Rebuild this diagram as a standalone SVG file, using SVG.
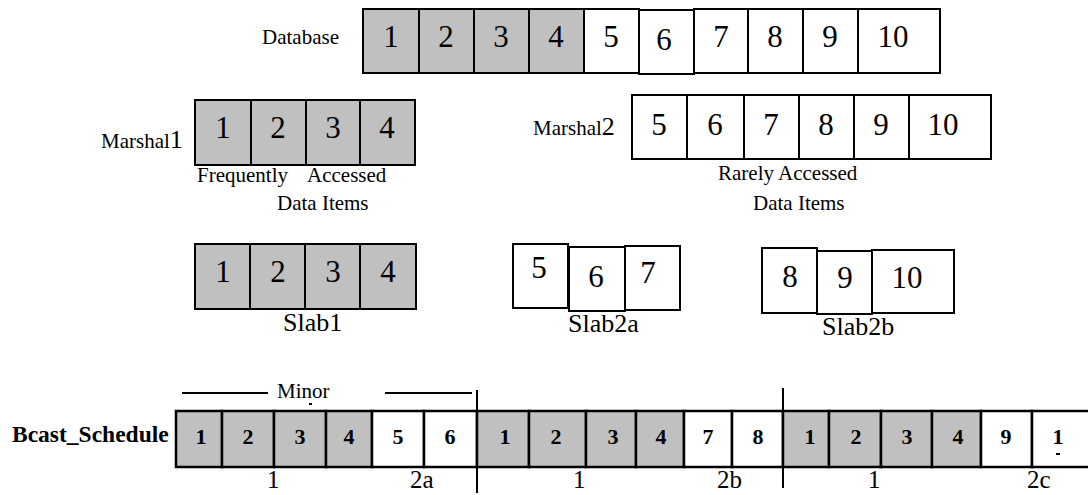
<svg xmlns="http://www.w3.org/2000/svg" width="1088" height="495" viewBox="0 0 1088 495">
<style>
  .g{fill:#c0c0c0;stroke:#000;stroke-width:2}
  .w{fill:#fff;stroke:#000;stroke-width:2}
  .gb{fill:#c0c0c0;stroke:#000;stroke-width:2.5}
  .wb{fill:#fff;stroke:#000;stroke-width:2.5}
  text{font-family:"Liberation Serif","Times New Roman",serif;fill:#000}
  .d{font-size:31px;text-anchor:middle}
  .db{font-size:22px;font-weight:bold;text-anchor:middle}
  .lbl{font-size:21px}
  .sl{font-size:26px}
  .bl{font-size:25px}
  .ln{stroke:#000;stroke-width:2;fill:none}
</style>
<rect width="1088" height="495" fill="#fff"/>

<g id="database">
  <text class="lbl" x="262" y="44" font-size="22.5">Database</text>
  <rect class="g" x="363" y="9" width="56" height="64"/>
  <rect class="g" x="419" y="9" width="55" height="64"/>
  <rect class="g" x="474" y="9" width="55" height="64"/>
  <rect class="g" x="529" y="9" width="55" height="64"/>
  <rect class="w" x="584" y="9" width="55" height="64"/>
  <rect class="w" x="639" y="10" width="55" height="64"/>
  <rect class="w" x="694" y="9" width="54" height="64"/>
  <rect class="w" x="748" y="9" width="55" height="64"/>
  <rect class="w" x="803" y="9" width="55" height="64"/>
  <rect class="w" x="858" y="9" width="82" height="64"/>
  <text class="d" x="391" y="47">1</text>
  <text class="d" x="446" y="47">2</text>
  <text class="d" x="501" y="47">3</text>
  <text class="d" x="556" y="47">4</text>
  <text class="d" x="611" y="47">5</text>
  <text class="d" x="664" y="50">6</text>
  <text class="d" x="721" y="47">7</text>
  <text class="d" x="775" y="47">8</text>
  <text class="d" x="830" y="47">9</text>
  <text class="d" x="893" y="47">10</text>
</g>

<g id="marshal1">
  <text class="lbl" x="101" y="148">Marshal<tspan font-size="26">1</tspan></text>
  <rect class="g" x="195" y="100" width="56" height="65"/>
  <rect class="g" x="251" y="100" width="55" height="65"/>
  <rect class="g" x="306" y="100" width="54" height="65"/>
  <rect class="g" x="360" y="100" width="55" height="65"/>
  <text class="d" x="223" y="138">1</text>
  <text class="d" x="278" y="138">2</text>
  <text class="d" x="333" y="138">3</text>
  <text class="d" x="387" y="138">4</text>
  <text class="lbl" y="182"><tspan x="197">Frequently</tspan><tspan x="307">Accessed</tspan></text>
  <text class="lbl" x="277" y="210">Data Items</text>
</g>

<g id="marshal2">
  <text class="lbl" x="533" y="135">Marshal<tspan font-size="26">2</tspan></text>
  <rect class="w" x="632" y="95" width="55" height="64"/>
  <rect class="w" x="687" y="95" width="57" height="64"/>
  <rect class="w" x="744" y="95" width="55" height="64"/>
  <rect class="w" x="799" y="95" width="55" height="64"/>
  <rect class="w" x="854" y="95" width="55" height="64"/>
  <rect class="w" x="909" y="95" width="82" height="64"/>
  <text class="d" x="659" y="135">5</text>
  <text class="d" x="715" y="135">6</text>
  <text class="d" x="771" y="135">7</text>
  <text class="d" x="826" y="135">8</text>
  <text class="d" x="881" y="135">9</text>
  <text class="d" x="943" y="135">10</text>
  <text class="lbl" x="718" y="180">Rarely Accessed</text>
  <text class="lbl" x="753" y="210">Data Items</text>
</g>

<g id="slab1">
  <rect class="g" x="195" y="244" width="55" height="65"/>
  <rect class="g" x="250" y="244" width="55" height="65"/>
  <rect class="g" x="305" y="244" width="55" height="65"/>
  <rect class="g" x="360" y="244" width="56" height="65"/>
  <text class="d" x="223" y="282">1</text>
  <text class="d" x="278" y="282">2</text>
  <text class="d" x="333" y="282">3</text>
  <text class="d" x="388" y="282">4</text>
  <text class="sl" x="283" y="331">Slab1</text>
</g>

<g id="slab2a">
  <rect class="w" x="513" y="244" width="55" height="64"/>
  <rect class="w" x="569" y="247" width="56" height="64"/>
  <rect class="w" x="625" y="246" width="55" height="64"/>
  <text class="d" x="539" y="278">5</text>
  <text class="d" x="596" y="287">6</text>
  <text class="d" x="648" y="283">7</text>
  <text class="sl" x="568" y="332">Slab2a</text>
</g>

<g id="slab2b">
  <rect class="w" x="762" y="248" width="55" height="65"/>
  <rect class="w" x="817" y="251" width="55" height="63"/>
  <rect class="w" x="872" y="250" width="82" height="63"/>
  <text class="d" x="790" y="287">8</text>
  <text class="d" x="845" y="288">9</text>
  <text class="d" x="907" y="288">10</text>
  <text class="sl" x="822" y="335">Slab2b</text>
</g>

<g id="bcast">
  <text x="12" y="442" font-size="23.5" font-weight="bold">Bcast_Schedule</text>
  <rect class="gb" x="176" y="411" width="46" height="56"/>
  <rect class="gb" x="222" y="411" width="52" height="56"/>
  <rect class="gb" x="274" y="411" width="52" height="56"/>
  <rect class="gb" x="326" y="411" width="46" height="56"/>
  <rect class="wb" x="372" y="411" width="52" height="56"/>
  <rect class="wb" x="424" y="411" width="53" height="56"/>
  <rect class="gb" x="477" y="411" width="52" height="56"/>
  <rect class="gb" x="529" y="411" width="57" height="56"/>
  <rect class="gb" x="586" y="411" width="50" height="56"/>
  <rect class="gb" x="636" y="411" width="48" height="56"/>
  <rect class="wb" x="684" y="411" width="48" height="56"/>
  <rect class="wb" x="732" y="411" width="51" height="56"/>
  <rect class="gb" x="783" y="411" width="46" height="56"/>
  <rect class="gb" x="829" y="411" width="52" height="56"/>
  <rect class="gb" x="881" y="411" width="51" height="56"/>
  <rect class="gb" x="932" y="411" width="49" height="56"/>
  <rect class="wb" x="981" y="411" width="51" height="56"/>
  <rect class="wb" x="1032" y="411" width="60" height="56"/>
  <text class="db" x="201" y="444">1</text>
  <text class="db" x="248" y="444">2</text>
  <text class="db" x="300" y="444">3</text>
  <text class="db" x="349" y="444">4</text>
  <text class="db" x="398" y="444">5</text>
  <text class="db" x="450" y="444">6</text>
  <text class="db" x="505" y="444">1</text>
  <text class="db" x="556" y="444">2</text>
  <text class="db" x="613" y="444">3</text>
  <text class="db" x="661" y="444">4</text>
  <text class="db" x="708" y="444">7</text>
  <text class="db" x="758" y="444">8</text>
  <text class="db" x="810" y="444">1</text>
  <text class="db" x="856" y="444">2</text>
  <text class="db" x="907" y="444">3</text>
  <text class="db" x="958" y="444">4</text>
  <text class="db" x="1006" y="444">9</text>
  <text class="db" x="1058" y="444">1</text>
  <line class="ln" x1="1056" y1="454" x2="1060" y2="454" stroke-width="1"/>
  <text class="bl" x="267" y="488">1</text>
  <text class="bl" x="410" y="488">2a</text>
  <text class="bl" x="573" y="488">1</text>
  <text class="bl" x="717" y="488">2b</text>
  <text class="bl" x="868" y="488">1</text>
  <text class="bl" x="1027" y="488">2c</text>
</g>

<g id="annotations">
  <line class="ln" x1="182" y1="393" x2="268" y2="393"/>
  <line class="ln" x1="385" y1="393" x2="472" y2="393"/>
  <text class="lbl" x="277" y="398">Minor</text>
  <line class="ln" x1="309" y1="404" x2="312" y2="404" stroke-width="1"/>
  <line class="ln" x1="477" y1="390" x2="477" y2="493"/>
  <line class="ln" x1="783" y1="388" x2="783" y2="488"/>
</g>
</svg>
